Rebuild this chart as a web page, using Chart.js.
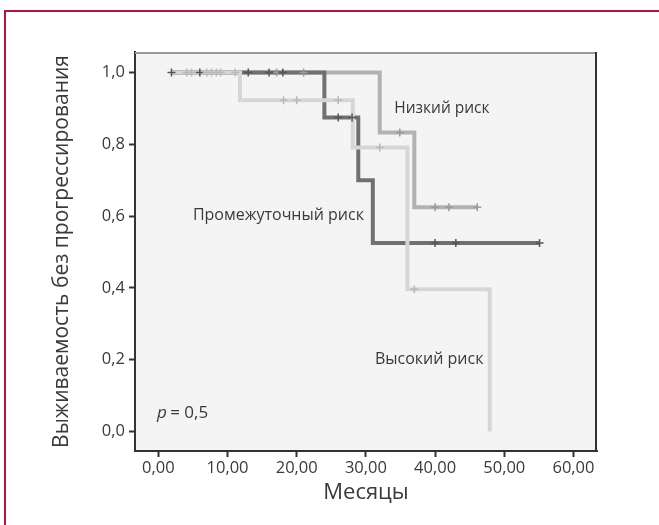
<!DOCTYPE html>
<html><head><meta charset="utf-8">
<script src="https://cdn.jsdelivr.net/npm/chart.js@4"></script>
<style>
html,body{margin:0;padding:0;background:#fff;}
#wrap{position:relative;width:659px;height:525px;overflow:hidden;}
#frame{position:absolute;left:4px;top:10px;width:700px;height:600px;border-left:2px solid #b8123e;border-top:2px solid #b8123e;}
canvas{position:absolute;left:0;top:0;}
</style></head><body>
<div id="wrap"><div id="frame"></div><canvas id="c" width="659" height="525"></canvas></div>
<script>
const xTicks = [0, 10, 20, 30, 40, 50, 60];
const yTicks = [0, 0.2, 0.4, 0.6, 0.8, 1.0];

// Низкий риск (low risk)
const lowT  = [1.9, 32.0, 37.0, 46.1];
const lowS  = [1, 0.833, 0.625, 0.625];
const lowCT = [17.1, 21.0, 34.9, 40.0, 42.0, 46.1];
const lowCS = [1, 1, 0.833, 0.625, 0.625, 0.625];

// Промежуточный риск (intermediate risk)
const midT  = [1.9, 24.0, 28.9, 31.0, 55.1];
const midS  = [1, 0.875, 0.70, 0.525, 0.525];
const midCT = [1.9, 6.0, 13.0, 16.0, 18.0, 26.0, 28.0, 40.0, 43.0, 55.1];
const midCS = [1, 1, 1, 1, 1, 0.875, 0.875, 0.525, 0.525, 0.525];

// Высокий риск (high risk)
const highT  = [1.9, 11.8, 28.1, 36.0, 47.9];
const highS  = [1, 0.923, 0.791, 0.396, 0];
const highCT = [4.1, 4.8, 7.0, 7.7, 8.4, 9.0, 11.1, 18.1, 20.0, 26.0, 32.0, 37.0];
const highCS = [1, 1, 1, 1, 1, 1, 1, 0.923, 0.923, 0.923, 0.791, 0.396];

const groupLabels = ['Низкий риск', 'Промежуточный риск', 'Высокий риск'];
const labelPos = [[34.1, 0.90], [5.0, 0.603], [31.3, 0.201]];
const labelSize = [15.5, 16, 16];

const pts = (t, s) => t.map((v, i) => ({x: v, y: s[i]}));
const FONT = '"Open Sans", sans-serif';
const TXT = '#3a3a3a';

function lineDs(t, s, color, order) {
  return {data: pts(t, s), showLine: true, stepped: true, borderColor: color, borderWidth: 4,
    pointRadius: 0, fill: false, order: order, borderCapStyle: 'butt', borderJoinStyle: 'miter'};
}
function censDs(t, s, color, order) {
  return {data: pts(t, s), showLine: false, pointStyle: 'cross', pointRadius: 4,
    borderColor: color, backgroundColor: color, pointBorderWidth: 1.5, order: order};
}

const plugin = {
  id: 'decor',
  beforeDraw(chart) {
    const {ctx, chartArea: a} = chart;
    ctx.save();
    ctx.fillStyle = '#f4f4f4';
    ctx.fillRect(a.left, a.top, a.right - a.left, a.bottom - a.top);
    ctx.restore();
  },
  afterDatasetsDraw(chart) {
    const {ctx, scales: {x, y}} = chart;
    ctx.save();
    ctx.fillStyle = TXT;
    ctx.textBaseline = 'middle';
    groupLabels.forEach((l, i) => {
      ctx.font = labelSize[i] + 'px ' + FONT;
      ctx.fillText(l, x.getPixelForValue(labelPos[i][0]), y.getPixelForValue(labelPos[i][1]));
    });
    const px = x.getPixelForValue(-0.2), py = y.getPixelForValue(0.05);
    ctx.font = 'italic 17px ' + FONT;
    ctx.fillText('p', px, py);
    const w = ctx.measureText('p').width;
    ctx.font = '17px ' + FONT;
    ctx.fillText(' = 0,5', px + w - 1, py);
    ctx.restore();
  },
  afterDraw(chart) {
    const {ctx, chartArea: a} = chart;
    ctx.save();
    ctx.lineWidth = 2;
    ctx.strokeStyle = '#999';
    ctx.beginPath(); ctx.moveTo(a.left, a.top + 1); ctx.lineTo(a.right, a.top + 1); ctx.stroke();
    ctx.strokeStyle = '#333';
    ctx.beginPath(); ctx.moveTo(a.right - 1, a.top); ctx.lineTo(a.right - 1, a.bottom); ctx.stroke();
    ctx.restore();
  }
};

new Chart(document.getElementById('c'), {
  type: 'scatter',
  data: {datasets: [
    censDs(highCT, highCS, '#b9b9b9', 0),
    censDs(midCT, midCS, '#555558', 0),
    censDs(lowCT, lowCS, '#9a9a9a', 0),
    lineDs(highT, highS, '#d6d6d6', 1),
    lineDs(midT, midS, '#707073', 2),
    lineDs(lowT, lowS, '#b2b2b2', 3)
  ]},
  options: {
    responsive: false, animation: false,
    layout: {padding: {left: 0, top: 52, right: 62, bottom: 0}},
    plugins: {legend: {display: false}, tooltip: {enabled: false}},
    scales: {
      x: {type: 'linear', min: -3.37, max: 63.4,
        afterBuildTicks: s => { s.ticks = xTicks.map(v => ({value: v})); },
        afterFit: s => { s.height = 74; },
        ticks: {callback: v => v.toFixed(2).replace('.', ','), color: TXT, font: {family: FONT, size: 16.5}, padding: 1, maxRotation: 0},
        grid: {drawOnChartArea: false, drawTicks: true, tickLength: 6, tickColor: '#333', tickWidth: 2},
        border: {display: true, color: '#333', width: 2},
        title: {display: true, text: 'Месяцы', color: TXT, font: {family: FONT, size: 22}, padding: {top: 0, bottom: 19}}
      },
      y: {type: 'linear', min: -0.0543, max: 1.0571,
        afterBuildTicks: s => { s.ticks = yTicks.map(v => ({value: v})); },
        afterFit: s => { s.width = 135; },
        ticks: {callback: v => v.toFixed(1).replace('.', ','), color: TXT, font: {family: FONT, size: 16.5}, padding: 4},
        grid: {drawOnChartArea: false, drawTicks: true, tickLength: 6, tickColor: '#333', tickWidth: 2},
        border: {display: true, color: '#333', width: 2},
        title: {display: true, text: 'Выживаемость без прогрессирования', color: TXT, font: {family: FONT, size: 21}, padding: {top: 49, bottom: 0}}
      }
    }
  },
  plugins: [plugin]
});
</script>
</body></html>
